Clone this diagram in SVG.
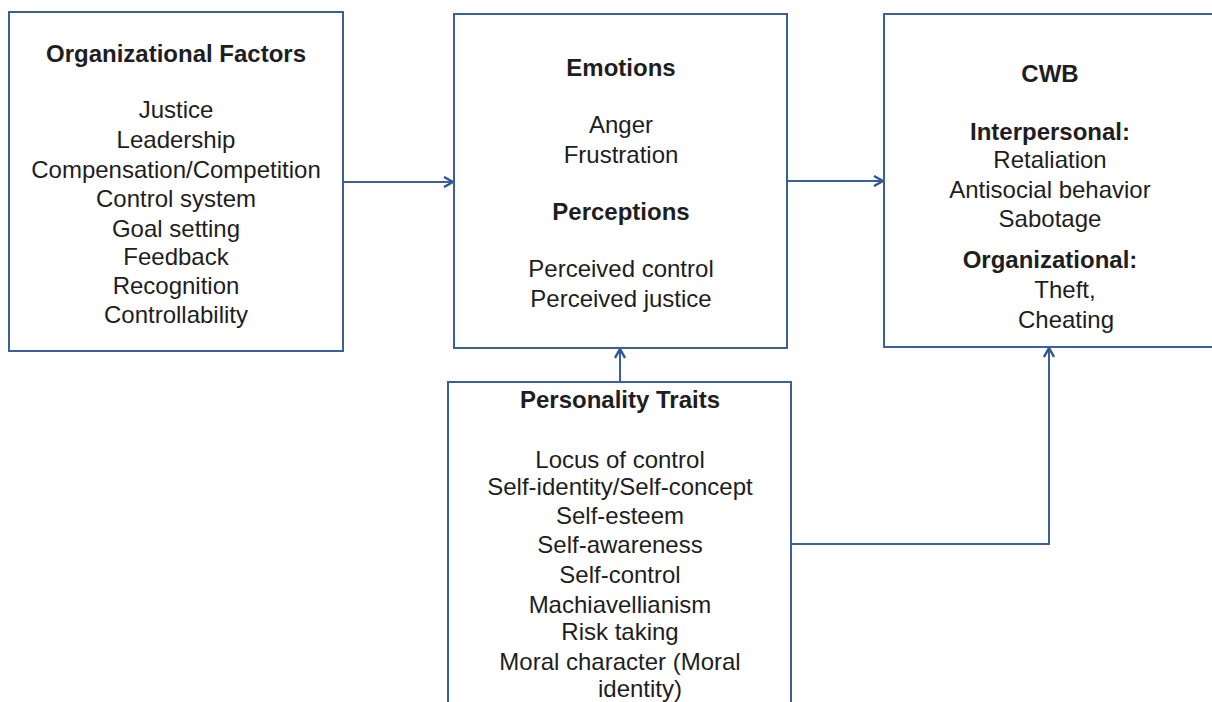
<svg xmlns="http://www.w3.org/2000/svg" width="1212" height="702" viewBox="0 0 1212 702">
  <style>
    .box { fill: #ffffff; stroke: #3b5f9c; stroke-width: 2; }
    .wire { fill: none; stroke: #3b5f9c; stroke-width: 2; }
    text { font-family: "Liberation Sans", Arial, sans-serif; font-size: 24px; fill: #1e1e1e; text-anchor: middle; }
    .hd { font-weight: bold; }
  </style>
  <defs>
    <marker id="arrow" viewBox="0 0 12 12" refX="11" refY="6" markerWidth="12" markerHeight="12" markerUnits="userSpaceOnUse" orient="auto">
      <path d="M2,1 L11,6 L2,11" fill="none" stroke="#2f5597" stroke-width="2.4"/>
    </marker>
  </defs>
  <rect width="1212" height="702" fill="#ffffff"/>

  <g id="connectors">
    <line class="wire" x1="343" y1="182" x2="453" y2="182" marker-end="url(#arrow)"/>
    <line class="wire" x1="787" y1="181" x2="883" y2="181" marker-end="url(#arrow)"/>
    <line class="wire" x1="620" y1="382" x2="620" y2="349" marker-end="url(#arrow)"/>
    <polyline class="wire" points="791,544 1049,544 1049,348" marker-end="url(#arrow)"/>
  </g>

  <g id="organizational-factors">
    <rect class="box" x="9" y="12" width="334" height="339"/>
    <text class="hd" x="176" y="62">Organizational Factors</text>
    <text x="176" y="118">Justice</text>
    <text x="176" y="148">Leadership</text>
    <text x="176" y="178">Compensation/Competition</text>
    <text x="176" y="207">Control system</text>
    <text x="176" y="237">Goal setting</text>
    <text x="176" y="265">Feedback</text>
    <text x="176" y="294">Recognition</text>
    <text x="176" y="323">Controllability</text>
  </g>

  <g id="emotions-perceptions">
    <rect class="box" x="454" y="14" width="333" height="334"/>
    <text class="hd" x="621" y="76">Emotions</text>
    <text x="621" y="133">Anger</text>
    <text x="621" y="163">Frustration</text>
    <text class="hd" x="621" y="220">Perceptions</text>
    <text x="621" y="277">Perceived control</text>
    <text x="621" y="307">Perceived justice</text>
  </g>

  <g id="cwb">
    <rect class="box" x="884" y="14" width="340" height="333"/>
    <text class="hd" x="1050" y="82">CWB</text>
    <text class="hd" x="1050" y="140">Interpersonal:</text>
    <text x="1050" y="168">Retaliation</text>
    <text x="1050" y="198">Antisocial behavior</text>
    <text x="1050" y="227">Sabotage</text>
    <text class="hd" x="1050" y="268">Organizational:</text>
    <text x="1065" y="298">Theft,</text>
    <text x="1066" y="328">Cheating</text>
  </g>

  <g id="personality-traits">
    <rect class="box" x="448" y="382" width="343" height="340"/>
    <text class="hd" x="620" y="408">Personality Traits</text>
    <text x="620" y="468">Locus of control</text>
    <text x="620" y="495">Self-identity/Self-concept</text>
    <text x="620" y="524">Self-esteem</text>
    <text x="620" y="553">Self-awareness</text>
    <text x="620" y="583">Self-control</text>
    <text x="620" y="613">Machiavellianism</text>
    <text x="620" y="640">Risk taking</text>
    <text x="620" y="670">Moral character (Moral</text>
    <text x="640" y="697">identity)</text>
  </g>
</svg>
